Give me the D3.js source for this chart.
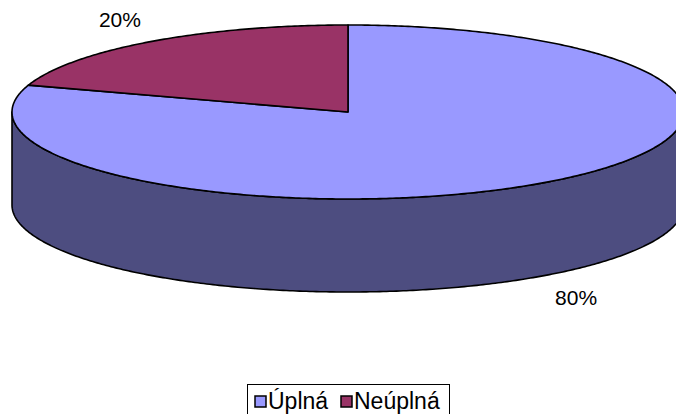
<!DOCTYPE html>
<html>
<head>
<meta charset="utf-8">
<script src="https://cdn.jsdelivr.net/npm/d3@7/dist/d3.min.js"></script>
<style>
  html, body { margin: 0; padding: 0; background: #fff; }
  svg { display: block; }
  text { font-family: "Liberation Sans", Arial, sans-serif; fill: #000; }
</style>
</head>
<body>
<svg id="chart" width="676" height="414"></svg>
<script>
// Data
const categories = ["Úplná", "Neúplná"];
const values = [80, 20];
const valueLabels = ["80%", "20%"];
const topColors = ["#9999ff", "#993366"];
const sideColors = ["#4d4d80", "#4d1a33"];

const W = 676, H = 414;
const svg = d3.select("#chart");

// 3D pie geometry
const cx = 348, cy = 112, rx = 336, ry = 87, depth = 93;

const pie = d3.pie().sort(null).value(d => d);
const arcs = pie(values);

// angle measured clockwise from 12 o'clock, projected on a tilted ellipse
const px = a => cx + rx * Math.sin(a);
const py = a => cy - ry * Math.cos(a);

function sampleArc(a0, a1, dy) {
  const n = Math.max(2, Math.ceil((a1 - a0) / 0.01));
  const pts = [];
  for (let i = 0; i <= n; i++) {
    const a = a0 + (a1 - a0) * i / n;
    pts.push([px(a), py(a) + dy]);
  }
  return pts;
}

const line = d3.line();

// Front wall: only the part of each slice facing the viewer (3 o'clock to 9 o'clock)
const gSide = svg.append("g");
arcs.forEach((d, i) => {
  const a0 = Math.max(d.startAngle, Math.PI / 2);
  const a1 = Math.min(d.endAngle, 3 * Math.PI / 2);
  if (a1 <= a0) return;
  const topEdge = sampleArc(a0, a1, 0);
  const botEdge = sampleArc(a0, a1, depth).reverse();
  gSide.append("path")
    .attr("d", line(topEdge.concat(botEdge)) + "Z")
    .attr("fill", sideColors[i])
    .attr("stroke", "#000")
    .attr("stroke-width", 1.6)
    .attr("stroke-linejoin", "round");
});

// Top face
const gTop = svg.append("g");
arcs.forEach((d, i) => {
  const pts = [[cx, cy]].concat(sampleArc(d.startAngle, d.endAngle, 0));
  gTop.append("path")
    .attr("d", line(pts) + "Z")
    .attr("fill", topColors[i])
    .attr("stroke", "#000")
    .attr("stroke-width", 1.6)
    .attr("stroke-linejoin", "round");
});

// Percentage labels outside the slices
arcs.forEach((d, i) => {
  const mid = (d.startAngle + d.endAngle) / 2;
  const x = cx + 1.155 * rx * Math.sin(mid);
  const y = cy - 1.31 * ry * Math.cos(mid) + (Math.cos(mid) < 0 ? depth : 0);
  svg.append("text")
    .attr("x", x)
    .attr("y", y)
    .attr("text-anchor", "middle")
    .attr("dominant-baseline", "central")
    .attr("font-size", 21)
    .text(valueLabels[i]);
});

// Legend
const lg = svg.append("g").attr("transform", "translate(247,384)");
lg.append("rect")
  .attr("x", 0.5).attr("y", 0.5)
  .attr("width", 202).attr("height", 31)
  .attr("fill", "#fff").attr("stroke", "#000").attr("stroke-width", 1);

const itemX = [8, 94];
categories.forEach((c, i) => {
  const g = lg.append("g").attr("transform", `translate(${itemX[i]},0)`);
  g.append("rect")
    .attr("x", 0).attr("y", 12).attr("width", 11).attr("height", 11)
    .attr("fill", topColors[i]).attr("stroke", "#000").attr("stroke-width", 1.5);
  g.append("text")
    .attr("x", 13).attr("y", 25)
    .attr("font-size", 23)
    .text(c);
});
</script>
</body>
</html>
